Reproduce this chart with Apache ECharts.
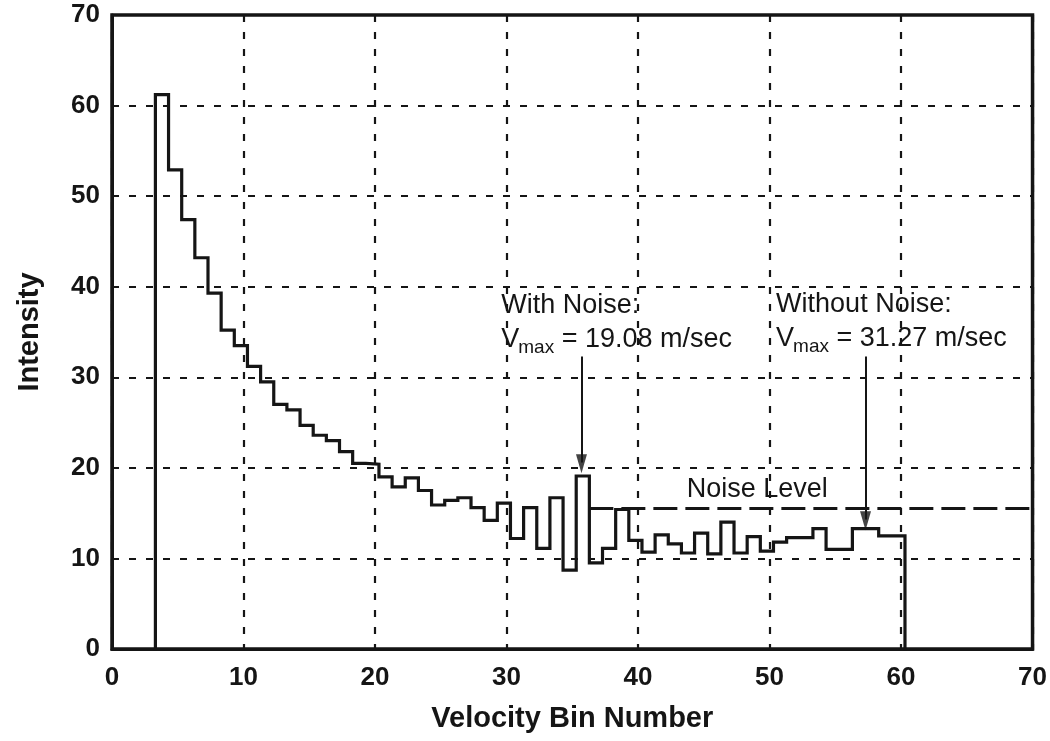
<!DOCTYPE html>
<html>
<head>
<meta charset="utf-8">
<script src="https://cdn.jsdelivr.net/npm/echarts@6/dist/echarts.min.js"></script>
<style>
html,body{margin:0;padding:0;background:#fff;}
#c{width:1050px;height:741px;}
</style>
</head>
<body>
<div id="c"></div>
<script>
// ---------------- data ----------------
const xTicks = [0, 10, 20, 30, 40, 50, 60, 70];
const yTicks = [0, 10, 20, 30, 40, 50, 60, 70];
const firstBinEdge = 3.3;   // left edge of the first velocity bin
const binWidth = 1;
const intensity = [
  61.2, 52.9, 47.4, 43.2, 39.3, 35.2, 33.5, 31.2, 29.5, 27.0,
  26.4, 24.7, 23.6, 23.0, 21.8, 20.5, 20.4, 19.0, 17.9, 18.9,
  17.5, 15.9, 16.4, 16.7, 15.6, 14.2, 16.1, 12.2, 15.6, 11.1,
  16.7, 8.7, 19.1, 9.5, 11.1, 15.4, 12.0, 10.7, 12.6, 11.6,
  10.6, 12.8, 10.5, 14.0, 10.6, 12.4, 10.8, 11.8, 12.3, 12.3,
  13.3, 11.0, 11.0, 13.3, 13.3, 12.5, 12.5
];
const noiseLevel = 15.5;
const noiseLineX = [36.3, 70];
const arrowWithNoise = [35.7, 32.3, 19.4];     // x, from y, to y
const arrowWithoutNoise = [57.3, 32.3, 13.1];

// ---------------- chart ----------------
const FONT = '"Liberation Sans", Arial, Helvetica, sans-serif';
const INK = '#151515';

const stepPts = [[firstBinEdge, 0]];
intensity.forEach((v, i) => stepPts.push([firstBinEdge + i * binWidth, v]));
const lastEdge = firstBinEdge + intensity.length * binWidth;
stepPts.push([lastEdge, intensity[intensity.length - 1]]);
stepPts.push([lastEdge, 0]);

const chart = echarts.init(document.getElementById('c'), null, {renderer: 'canvas'});

const axisCommon = {
  type: 'value',
  min: xTicks[0], max: xTicks[xTicks.length - 1], interval: 10,
  axisLine: {show: true, onZero: false, lineStyle: {color: INK, width: 3}},
  axisTick: {show: false},
  splitLine: {show: true, lineStyle: {color: INK, width: 2.2, type: [7, 10]}},
  axisLabel: {color: INK, fontFamily: FONT, fontWeight: 'bold', fontSize: 26,
              showMinLabel: true, showMaxLabel: true}
};

const arrows = [arrowWithNoise, arrowWithoutNoise];

chart.setOption({
  animation: false,
  backgroundColor: '#fff',
  grid: {left: 112, right: 17, top: 15, bottom: 92, show: true,
         borderColor: INK, borderWidth: 3.5, backgroundColor: 'transparent'},
  xAxis: Object.assign({}, axisCommon, {
    name: 'Velocity Bin Number', nameLocation: 'middle', nameGap: 55,
    nameTextStyle: {color: INK, fontFamily: FONT, fontWeight: 'bold', fontSize: 29},
    axisLabel: Object.assign({}, axisCommon.axisLabel, {margin: 16})
  }),
  yAxis: Object.assign({}, axisCommon, {
    min: yTicks[0], max: yTicks[yTicks.length - 1],
    name: 'Intensity', nameLocation: 'middle', nameGap: 68,
    nameTextStyle: {color: INK, fontFamily: FONT, fontWeight: 'bold', fontSize: 29},
    axisLabel: Object.assign({}, axisCommon.axisLabel, {margin: 12})
  }),
  series: [
    {
      type: 'line', step: 'end', data: stepPts, symbol: 'none',
      lineStyle: {color: INK, width: 3.2, join: 'miter', cap: 'square'},
      z: 3, silent: true
    },
    {
      type: 'line', data: noiseLineX.map(x => [x, noiseLevel]), symbol: 'none',
      lineStyle: {color: INK, width: 3, type: [24, 8]}, z: 4, silent: true,
      markLine: {
        silent: true, animation: false,
        symbol: ['none', 'none'],
        label: {show: false},
        lineStyle: {color: INK, width: 2, type: 'solid'},
        emphasis: {disabled: true},
        data: arrows.map(a => [{coord: [a[0], a[1]]}, {coord: [a[0], a[2] + 1.2]}])
      }
    },
    {
      type: 'scatter', silent: true, z: 5,
      data: arrows.map(a => [a[0], a[2]]),
      symbol: 'path://M0,0 L10,0 L5,18 Z', symbolKeepAspect: false,
      symbolSize: [11, 19], symbolOffset: [0, -9.5],
      itemStyle: {color: INK}
    }
  ]
});

// ---------------- annotations ----------------
const mctx = document.createElement('canvas').getContext('2d');
function tw(text, size, weight) {
  mctx.font = (weight || 'normal') + ' ' + size + 'px ' + FONT;
  return mctx.measureText(text).width;
}
function px(x, y) { return chart.convertToPixel({gridIndex: 0}, [x, y]); }

const ANN = 27, SUB = 19;
function txt(text, x, y, size) {
  return {type: 'text', x: x, y: y, z: 10, silent: true,
          style: {text: text, fill: INK, font: 'normal ' + size + 'px ' + FONT,
                  textAlign: 'left', textVerticalAlign: 'middle', verticalAlign: 'middle'}};
}
function vmaxBlock(label, anchor, value) {
  const p = px(anchor[0], anchor[1]);     // left, first-line middle
  const x = p[0], y1 = p[1], y2 = y1 + 34;
  const out = [txt(label, x, y1, ANN)];
  out.push(txt('V', x, y2, ANN));
  const xs = x + tw('V', ANN) - 1;
  out.push(txt('max', xs, y2 + 8, SUB));
  const xe = xs + tw('max', SUB);
  out.push(txt(' = ' + value + ' m/sec', xe, y2, ANN));
  return out;
}
const gfx = []
  .concat(vmaxBlock('With Noise:', [29.6, 37.9], '19.08'))
  .concat(vmaxBlock('Without Noise:', [50.5, 38.0], '31.27'));
const nl = px(43.7, 17.6);
gfx.push(txt('Noise Level', nl[0], nl[1], ANN));
chart.setOption({graphic: gfx});
</script>
</body>
</html>
